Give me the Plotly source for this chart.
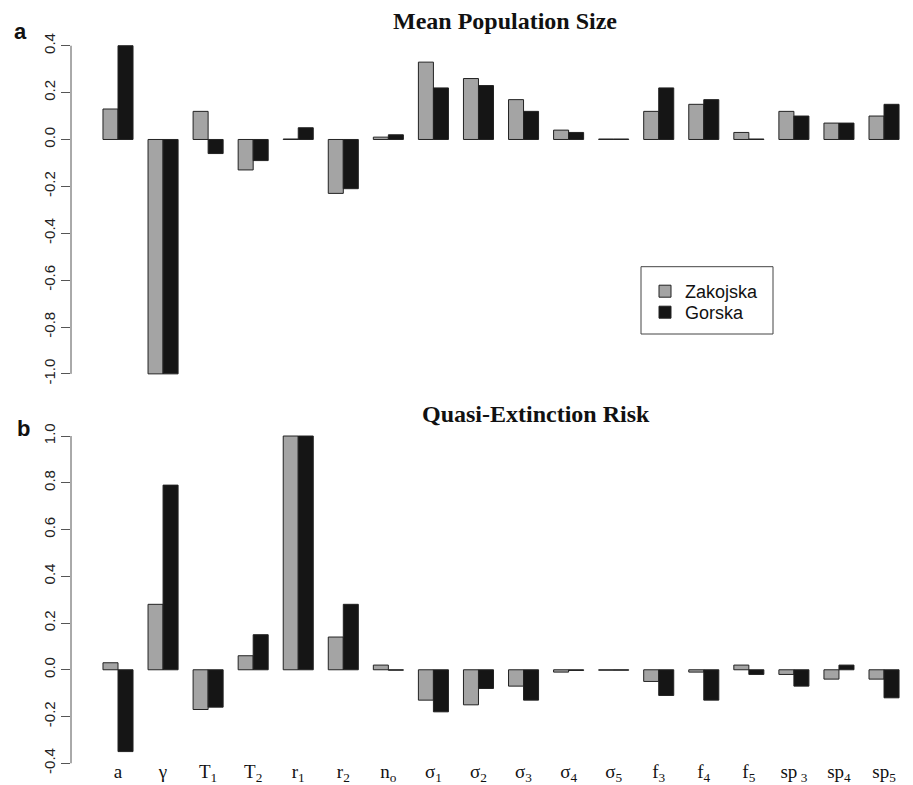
import plotly.graph_objects as go

# ---- data ----
categories = ["a", "gamma", "T1", "T2", "r1", "r2", "no", "s1", "s2", "s3", "s4", "s5",
              "f3", "f4", "f5", "sp3", "sp4", "sp5"]
tick_labels = ["a", "γ", "T<sub>1</sub>", "T<sub>2</sub>", "r<sub>1</sub>", "r<sub>2</sub>",
               "n<sub>o</sub>", "σ<sub>1</sub>", "σ<sub>2</sub>", "σ<sub>3</sub>", "σ<sub>4</sub>",
               "σ<sub>5</sub>", "f<sub>3</sub>", "f<sub>4</sub>", "f<sub>5</sub>",
               "sp<sub> 3</sub>", "sp<sub>4</sub>", "sp<sub>5</sub>"]

mean_zakojska = [0.13, -1.0, 0.12, -0.13, 0.002, -0.23, 0.01, 0.33, 0.26, 0.17, 0.04, 0.002,
                 0.12, 0.15, 0.03, 0.12, 0.07, 0.10]
mean_gorska = [0.40, -1.0, -0.06, -0.09, 0.05, -0.21, 0.02, 0.22, 0.23, 0.12, 0.03, 0.002,
               0.22, 0.17, 0.002, 0.10, 0.07, 0.15]

risk_zakojska = [0.03, 0.28, -0.17, 0.06, 1.0, 0.14, 0.02, -0.13, -0.15, -0.07, -0.01, -0.002,
                 -0.05, -0.01, 0.02, -0.02, -0.04, -0.04]
risk_gorska = [-0.35, 0.79, -0.16, 0.15, 1.0, 0.28, -0.002, -0.18, -0.08, -0.13, -0.003, -0.002,
               -0.11, -0.13, -0.02, -0.07, 0.02, -0.12]

top_ticks = [0.4, 0.2, 0.0, -0.2, -0.4, -0.6, -0.8, -1.0]
bottom_ticks = [1.0, 0.8, 0.6, 0.4, 0.2, 0.0, -0.2, -0.4]

series_names = ["Zakojska", "Gorska"]
series_colors = ["#a4a4a4", "#151515"]

# ---- layout constants ----
W, H = 913, 785
LEFT = 71


def px_x(p):
    return p / W


def px_y(p):
    return 1 - p / H


def fmt(v):
    return f"{v:.1f}".replace("−", "-")


fig = go.Figure()

legend_ids = ["legend", "legend2"]
for name, color, vals, lid in zip(series_names, series_colors,
                                  [mean_zakojska, mean_gorska], legend_ids):
    fig.add_trace(go.Bar(x=categories, y=vals, name=name, marker_color=color,
                         marker_line=dict(color="#222222", width=1),
                         xaxis="x", yaxis="y", showlegend=True, legend=lid))
for name, color, vals in zip(series_names, series_colors, [risk_zakojska, risk_gorska]):
    fig.add_trace(go.Bar(x=categories, y=vals, name=name, marker_color=color,
                         marker_line=dict(color="#222222", width=1),
                         xaxis="x2", yaxis="y2", showlegend=False))

xrange = [-1.043, -1.043 + (W - LEFT) / 45.06]
xdom = [px_x(LEFT), 1]

common_x = dict(domain=xdom, range=xrange, type="category", showgrid=False, zeroline=False,
                showline=False, ticks="", automargin=False,
                categoryorder="array", categoryarray=categories)
common_y = dict(showgrid=False, zeroline=False, showline=False, ticks="outside", ticklen=9,
                tickwidth=1, tickcolor="#555555", tickangle=-90, automargin=False,
                tickfont=dict(family="Liberation Sans, Arial, sans-serif", size=15, color="#222222"))

legend_font = dict(family="Liberation Sans, Arial, sans-serif", size=18, color="#111111")
legend_common = dict(xanchor="left", yanchor="top", bgcolor="rgba(0,0,0,0)", borderwidth=0,
                     font=legend_font)

fig.update_layout(
    width=W, height=H,
    margin=dict(l=0, r=0, t=0, b=0),
    paper_bgcolor="white", plot_bgcolor="white",
    barmode="group", bargap=1 / 3, bargroupgap=0,
    xaxis=dict(anchor="y", showticklabels=False, **common_x),
    xaxis2=dict(anchor="y2", showticklabels=True, tickvals=categories, ticktext=tick_labels,
                ticklabelstandoff=-6,
                tickfont=dict(family="Liberation Serif, Times New Roman, serif", size=19,
                              color="#111111"), **common_x),
    yaxis=dict(domain=[px_y(387), px_y(32.6)], range=[-1.056, 0.456],
               tickvals=top_ticks, ticktext=[fmt(v) for v in top_ticks], **common_y),
    yaxis2=dict(domain=[px_y(764.2), px_y(423.4)], range=[-0.404, 1.054],
                tickvals=bottom_ticks, ticktext=[fmt(v) for v in bottom_ticks], **common_y),
    legend=dict(x=px_x(645), y=px_y(273), **legend_common),
    legend2=dict(x=px_x(645), y=px_y(294), **legend_common),
    showlegend=True,
)

# axis lines spanning only the tick range (as in base R graphics)
fig.add_shape(type="line", xref="paper", yref="y", x0=px_x(LEFT), x1=px_x(LEFT),
              y0=min(top_ticks), y1=max(top_ticks), line=dict(color="#555555", width=1))
fig.add_shape(type="line", xref="paper", yref="y2", x0=px_x(LEFT), x1=px_x(LEFT),
              y0=min(bottom_ticks), y1=max(bottom_ticks), line=dict(color="#555555", width=1))

# legend frame
fig.add_shape(type="rect", xref="paper", yref="paper", x0=px_x(641), x1=px_x(773),
              y0=px_y(334), y1=px_y(266.7), line=dict(color="#444444", width=1))

title_font = dict(family="Liberation Serif, Times New Roman, serif", size=24, color="#111111")
letter_font = dict(family="Liberation Sans, Arial, sans-serif", size=22, color="#111111")

fig.add_annotation(text="<b>Mean Population Size</b>", xref="paper", yref="paper",
                   x=px_x(505), y=px_y(21), xanchor="center", yanchor="middle",
                   showarrow=False, font=title_font)
fig.add_annotation(text="<b>Quasi-Extinction Risk</b>", xref="paper", yref="paper",
                   x=px_x(536), y=px_y(414), xanchor="center", yanchor="middle",
                   showarrow=False, font=title_font)
fig.add_annotation(text="<b>a</b>", xref="paper", yref="paper",
                   x=px_x(20), y=px_y(32), xanchor="center", yanchor="middle",
                   showarrow=False, font=letter_font)
fig.add_annotation(text="<b>b</b>", xref="paper", yref="paper",
                   x=px_x(23), y=px_y(428), xanchor="center", yanchor="middle",
                   showarrow=False, font=letter_font)

fig.write_html("out.html", config={"displayModeBar": False},
               post_script="document.body.style.margin='0';document.body.style.overflow='hidden';")
